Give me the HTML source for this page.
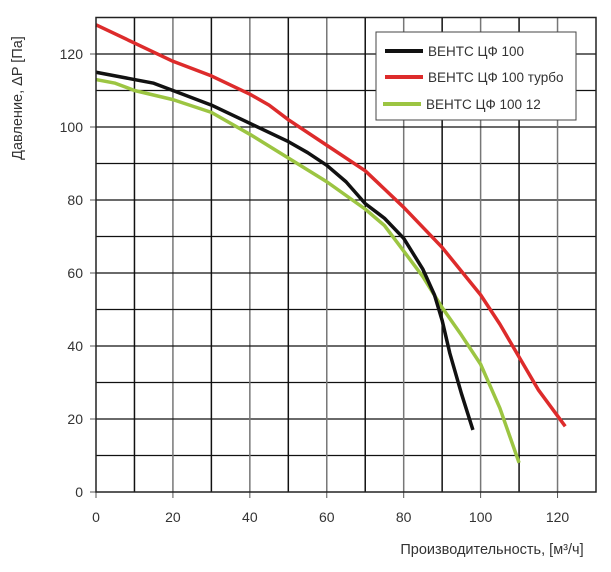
<!DOCTYPE html>
<html><head><meta charset="utf-8"><style>
body{margin:0;background:#fff;}
svg text{font-family:"Liberation Sans",sans-serif;fill:#333;}
</style></head><body>
<svg id="chart" width="611" height="567" xmlns="http://www.w3.org/2000/svg">
<g id="grid"></g>
<g id="ticks"></g>
<g id="series"></g>
<rect x="96" y="17.5" width="500" height="474.5" fill="none" stroke="#222" stroke-width="1.5"/>
<text transform="translate(22,98) rotate(-90)" text-anchor="middle" font-size="14.5">Давление, ΔP [Па]</text>
<text x="492" y="554" text-anchor="middle" font-size="14.5">Производительность, [м³/ч]</text>
<g>
<rect x="376" y="32" width="200" height="88" fill="#fff" stroke="#444" stroke-width="1"/>
<line x1="385" y1="51" x2="423" y2="51" stroke="#111" stroke-width="4"/>
<text x="428" y="56" font-size="13.5">ВЕНТС ЦФ 100</text>
<line x1="385" y1="77" x2="423" y2="77" stroke="#dd2b2b" stroke-width="4"/>
<text x="428" y="82" font-size="13.5">ВЕНТС ЦФ 100 турбо</text>
<line x1="383" y1="104" x2="421" y2="104" stroke="#9cc542" stroke-width="4"/>
<text x="426" y="109" font-size="13.5">ВЕНТС ЦФ 100 12</text>
</g>
</svg>
<script>
const xTicks=[0,20,40,60,80,100,120];
const yTicks=[0,20,40,60,80,100,120];
const blackX=[0,10,15,20,30,40,50,55,60,65,70,75,80,85,88,90,92,95,98];
const blackY=[115,113,112,110,106,101,96,93,89.5,85,79,75,69.5,61,54,47,38,27,17];
const redX=[0,10,20,30,40,45,50,60,70,80,90,100,105,110,115,122];
const redY=[128,123,118,114,109,106,102,95,88,78,67,54,46,37,28,18];
const greenX=[0,5,10,20,30,40,50,60,70,75,80,85,90,95,100,105,110];
const greenY=[113,112,110,107.5,104,98,91.5,85,77.5,73,66,59,50.5,43,35,23,8];
const NS="http://www.w3.org/2000/svg";
const sx=v=>96+v*500/130, sy=v=>492-v*474.5/130;
function mk(tag,attrs,parent){const e=document.createElementNS(NS,tag);for(const k in attrs)e.setAttribute(k,attrs[k]);parent.appendChild(e);return e;}
const grid=document.getElementById('grid'),ticks=document.getElementById('ticks'),series=document.getElementById('series');
for(let v=10;v<130;v+=10){
 const l=mk('line',{x1:sx(v),x2:sx(v),y1:17.5,y2:492,stroke:(v%20?'#111':'#777'),'stroke-width':1.5},grid);
 
 
 const h=mk('line',{x1:96,x2:596,y1:sy(v),y2:sy(v),stroke:'#111','stroke-width':1.3},grid);
 
 
}
xTicks.forEach(v=>{
 mk('line',{x1:sx(v),x2:sx(v),y1:492,y2:498,stroke:'#555'},ticks);
 const t=mk('text',{x:sx(v),y:522,'text-anchor':'middle','font-size':14},ticks);t.textContent=v;
 
 
});
yTicks.forEach(v=>{
 mk('line',{x1:90,x2:96,y1:sy(v),y2:sy(v),stroke:'#555'},ticks);
 const t=mk('text',{x:83,y:sy(v)+5,'text-anchor':'end','font-size':14},ticks);t.textContent=v;
 
 
});
function line(xs,ys,color,name){
 const p=mk('polyline',{points:xs.map((x,i)=>sx(x)+','+sy(ys[i])).join(' '),fill:'none',stroke:color,'stroke-width':3.5,'stroke-linejoin':'round'},series);
 
 
}
line(redX,redY,'#dd2b2b','series-turbo');
line(greenX,greenY,'#9cc542','series-12');
line(blackX,blackY,'#111','series-100');
</script>
</body></html>
